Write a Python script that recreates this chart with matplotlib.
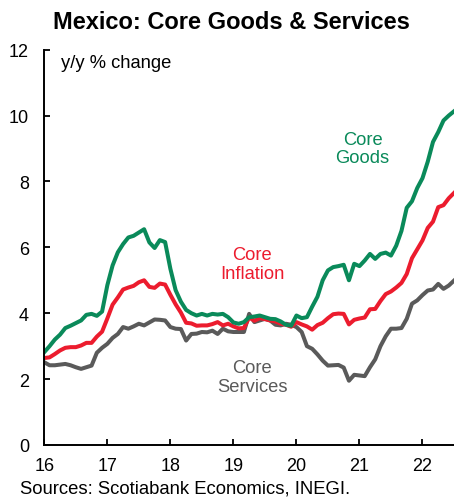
import numpy as np
import matplotlib.pyplot as plt

plt.rcParams['font.family'] = ['Liberation Sans', 'DejaVu Sans']

# monthly y/y % change, Jan 2016 - Jul 2022
core_inflation = [
    2.64, 2.66, 2.76, 2.87, 2.95, 2.97, 2.97, 3.02, 3.10, 3.10, 3.29, 3.44,
    3.84, 4.26, 4.48, 4.72, 4.78, 4.83, 4.94, 5.00, 4.80, 4.77, 4.90, 4.87,
    4.56, 4.27, 4.02, 3.71, 3.69, 3.62, 3.63, 3.63, 3.67, 3.73, 3.63, 3.68,
    3.60, 3.54, 3.55, 3.87, 3.77, 3.85, 3.82, 3.78, 3.75, 3.68, 3.65, 3.59,
    3.73, 3.66, 3.60, 3.50, 3.64, 3.71, 3.85, 3.97, 3.99, 3.98, 3.66, 3.80,
    3.84, 3.87, 4.12, 4.13, 4.37, 4.58, 4.66, 4.78, 4.92, 5.19, 5.67, 5.94,
    6.21, 6.59, 6.78, 7.22, 7.28, 7.49, 7.65,
]
core_goods = [
    2.82, 3.00, 3.20, 3.35, 3.55, 3.62, 3.70, 3.78, 3.95, 3.98, 3.92, 4.05,
    4.85, 5.45, 5.85, 6.10, 6.30, 6.35, 6.45, 6.55, 6.15, 5.98, 6.22, 6.16,
    5.35, 4.70, 4.35, 4.10, 4.00, 3.93, 3.98, 3.93, 3.98, 3.96, 3.98, 3.88,
    3.72, 3.68, 3.73, 3.88, 3.90, 3.93, 3.88, 3.83, 3.82, 3.75, 3.65, 3.62,
    3.93, 3.85, 3.88, 4.20, 4.50, 5.00, 5.30, 5.40, 5.43, 5.47, 5.00, 5.50,
    5.43, 5.60, 5.80, 5.65, 5.80, 5.84, 5.75, 6.05, 6.50, 7.20, 7.40, 7.80,
    8.10, 8.60, 9.20, 9.50, 9.85, 10.00, 10.13,
]
core_services = [
    2.51, 2.42, 2.42, 2.44, 2.46, 2.42, 2.36, 2.31, 2.36, 2.41, 2.80, 2.95,
    3.07, 3.25, 3.37, 3.58, 3.53, 3.60, 3.68, 3.63, 3.72, 3.81, 3.80, 3.78,
    3.58, 3.53, 3.52, 3.17, 3.37, 3.38, 3.43, 3.42, 3.47, 3.37, 3.53, 3.45,
    3.43, 3.43, 3.43, 3.98, 3.73, 3.78, 3.83, 3.78, 3.65, 3.63, 3.68, 3.65,
    3.58, 3.43, 3.00, 2.92, 2.75, 2.56, 2.41, 2.42, 2.43, 2.35, 1.95, 2.13,
    2.11, 2.09, 2.36, 2.60, 3.00, 3.30, 3.53, 3.53, 3.55, 3.83, 4.29, 4.39,
    4.55, 4.69, 4.72, 4.89, 4.74, 4.84, 4.99,
]
x = 16 + np.arange(len(core_inflation)) / 12
year_ticks = [16, 17, 18, 19, 20, 21, 22]

green = '#0a8a5a'
red = '#ec1c2e'
gray = '#5a5a5a'

fig = plt.figure(figsize=(4.54, 5.02), dpi=100)
ax = fig.add_axes([0.0976, 0.1116, 0.9024, 0.7874])

ax.plot(x, core_services, color=gray, linewidth=2.9, solid_joinstyle='round')
ax.plot(x, core_inflation, color=red, linewidth=2.9, solid_joinstyle='round')
ax.plot(x, core_goods, color=green, linewidth=2.9, solid_joinstyle='round')

ax.set_xlim(16, 22.5)
ax.set_ylim(0, 12)
ax.set_xticks(year_ticks)
ax.set_yticks(range(0, 13, 2))
ax.tick_params(direction='in', length=4, width=1.3, labelsize=13, pad=9)
ax.tick_params(axis='y', pad=11)

for side in ['top', 'right']:
    ax.spines[side].set_visible(False)
for side in ['left', 'bottom']:
    ax.spines[side].set_linewidth(1.4)

# series labels
ax.text(21.05, 9.0, 'Core\nGoods', color=green, fontsize=13.2, ha='center', va='center', linespacing=1.15)
ax.text(19.3, 5.48, 'Core\nInflation', color=red, fontsize=13.2, ha='center', va='center', linespacing=1.15)
ax.text(19.3, 2.05, 'Core\nServices', color=gray, fontsize=13.2, ha='center', va='center', linespacing=1.15)
ax.text(16.27, 11.6, 'y/y % change', fontsize=13.2, ha='left', va='center')

fig.text(0.509, 0.956, 'Mexico: Core Goods & Services', fontsize=17, fontweight='bold', ha='center', va='center')
fig.text(0.044, 0.008, 'Sources: Scotiabank Economics, INEGI.', fontsize=13.3, ha='left', va='bottom')

fig.savefig('out.png', dpi=100)
